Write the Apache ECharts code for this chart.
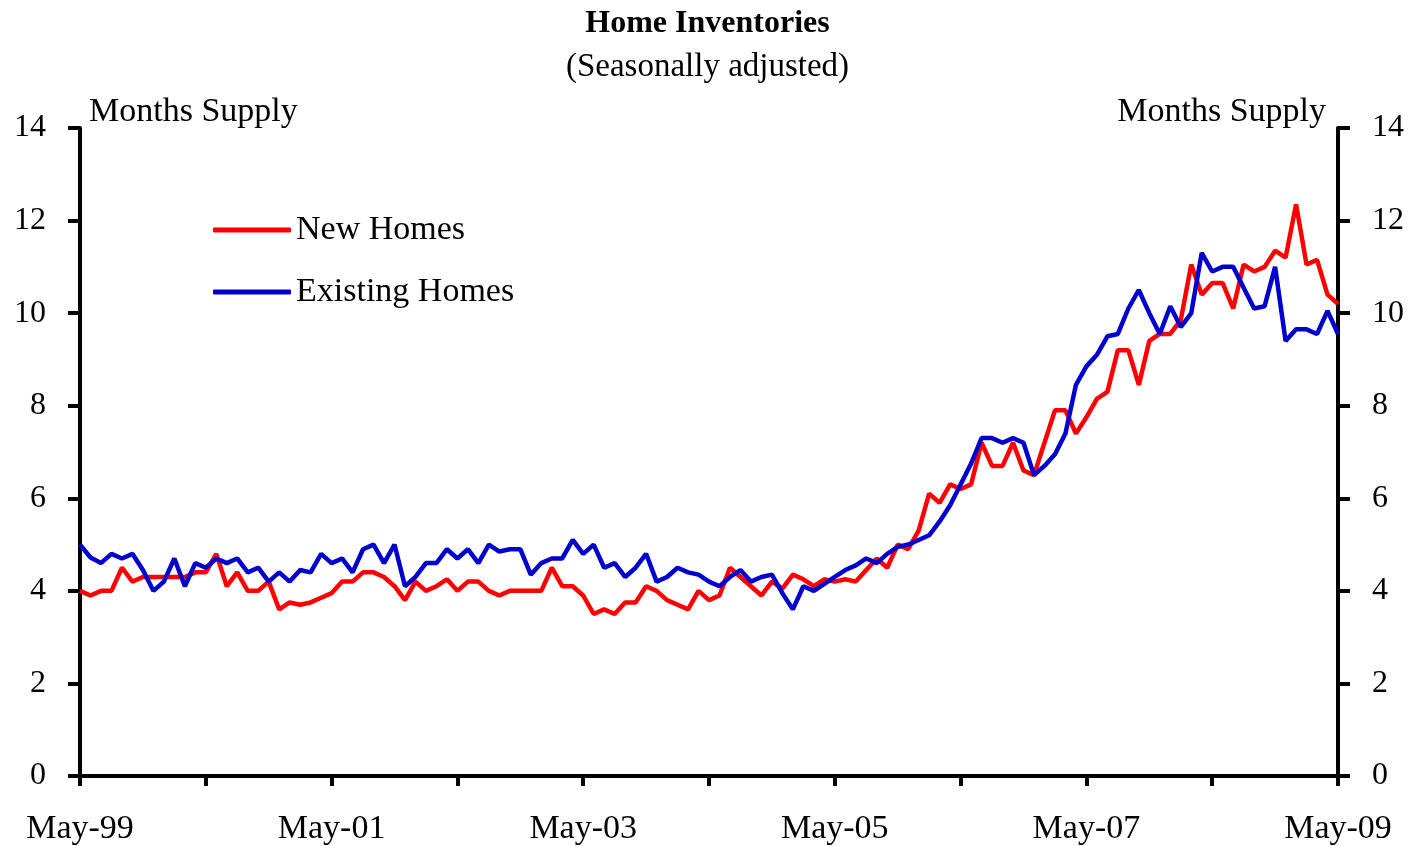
<!DOCTYPE html>
<html>
<head>
<meta charset="utf-8">
<script src="https://cdn.jsdelivr.net/npm/echarts@6/dist/echarts.min.js"></script>
<style>
  html, body { margin: 0; padding: 0; background: #fff; }
  #chart { width: 1415px; height: 846px; }
</style>
</head>
<body>
<div id="chart"></div>
<script>
// monthly, May-99 .. May-09
const monthNames = ['Jan', 'Feb', 'Mar', 'Apr', 'May', 'Jun', 'Jul', 'Aug', 'Sep', 'Oct', 'Nov', 'Dec']
const startYear = 1999
const startMonth = 4 // May

const newHomes = [
  4.0, 3.9, 4.0, 4.0, 4.5, 4.2, 4.3, 4.3, 4.3, 4.3, 4.3, 4.4,
  4.4, 4.8, 4.1, 4.4, 4.0, 4.0, 4.2, 3.6, 3.75, 3.7, 3.75, 3.85,
  3.95, 4.2, 4.2, 4.4, 4.4, 4.3, 4.1, 3.8, 4.2, 4.0, 4.1, 4.25,
  4.0, 4.2, 4.2, 4.0, 3.9, 4.0, 4.0, 4.0, 4.0, 4.5, 4.1, 4.1,
  3.9, 3.5, 3.6, 3.5, 3.75, 3.75, 4.1, 4.0, 3.8, 3.7, 3.6, 4.0,
  3.8, 3.9, 4.5, 4.3, 4.1, 3.9, 4.2, 4.05, 4.35, 4.25, 4.1, 4.25,
  4.2, 4.25, 4.2, 4.45, 4.7, 4.5, 5.0, 4.9, 5.3, 6.1, 5.9, 6.3,
  6.2, 6.3, 7.2, 6.7, 6.7, 7.2, 6.6, 6.5, 7.2, 7.9, 7.9, 7.4,
  7.75, 8.15, 8.3, 9.2, 9.2, 8.45, 9.4, 9.55, 9.55, 9.85, 11.05, 10.4,
  10.65, 10.65, 10.1, 11.05, 10.9, 11.0, 11.35, 11.2, 12.35, 11.05, 11.15, 10.4,
  10.2
]

const existingHomes = [
  5.0, 4.72, 4.6, 4.8, 4.7, 4.8, 4.45, 4.0, 4.2, 4.7, 4.1, 4.6,
  4.5, 4.7, 4.6, 4.7, 4.4, 4.5, 4.2, 4.4, 4.2, 4.45, 4.4, 4.8,
  4.6, 4.7, 4.4, 4.9, 5.0, 4.6, 5.0, 4.1, 4.3, 4.6, 4.6, 4.9,
  4.7, 4.9, 4.6, 5.0, 4.85, 4.9, 4.9, 4.35, 4.6, 4.7, 4.7, 5.1,
  4.8, 5.0, 4.5, 4.6, 4.3, 4.5, 4.8, 4.2, 4.3, 4.5, 4.4, 4.35,
  4.2, 4.1, 4.3, 4.45, 4.2, 4.3, 4.35, 3.95, 3.6, 4.1, 4.0, 4.15,
  4.3, 4.45, 4.55, 4.7, 4.6, 4.8, 4.95, 5.0, 5.1, 5.2, 5.5, 5.85,
  6.3, 6.75, 7.3, 7.3, 7.2, 7.3, 7.2, 6.5, 6.7, 6.95, 7.4, 8.45,
  8.85, 9.1, 9.5, 9.55, 10.1, 10.5, 10.0, 9.55, 10.15, 9.7, 10.0, 11.3,
  10.9, 11.0, 11.0, 10.55, 10.1, 10.15, 11.0, 9.4, 9.65, 9.65, 9.55, 10.05,
  9.55
]

const yTicks = [0, 2, 4, 6, 8, 10, 12, 14]

const months = []
for (let i = 0; i < newHomes.length; i++) {
  const m = (startMonth + i) % 12
  const y = startYear + Math.floor((startMonth + i) / 12)
  months.push(monthNames[m] + '-' + String(y).slice(2))
}

const FONT = '"Liberation Serif", "Times New Roman", serif'
const textBase = { fontFamily: FONT, color: '#000', fontSize: 32 }

const yAxisBase = {
  type: 'value',
  min: yTicks[0],
  max: yTicks[yTicks.length - 1],
  interval: 2,
  splitLine: { show: false },
  axisLine: { show: true, lineStyle: { color: '#000', width: 4 } },
  axisTick: { show: true, inside: false, length: 12, lineStyle: { color: '#000', width: 4 } },
  axisLabel: { ...textBase, margin: 34 },
}

const chart = echarts.init(document.getElementById('chart'))

chart.setOption({
  backgroundColor: '#fff',
  animation: false,
  title: [
    {
      text: 'Home Inventories',
      left: 'center',
      top: 3,
      textStyle: { fontFamily: FONT, fontWeight: 'bold', fontSize: 32, color: '#000' },
    },
    {
      text: '(Seasonally adjusted)',
      left: 'center',
      top: 46,
      textStyle: { fontFamily: FONT, fontWeight: 'normal', fontSize: 33, color: '#000' },
    },
    {
      text: 'Months Supply',
      left: 84,
      top: 90,
      textStyle: { fontFamily: FONT, fontWeight: 'normal', fontSize: 34, color: '#000' },
    },
    {
      text: 'Months Supply',
      right: 84,
      top: 90,
      textStyle: { fontFamily: FONT, fontWeight: 'normal', fontSize: 34, color: '#000' },
    },
  ],
  legend: {
    orient: 'vertical',
    left: 208,
    top: 208,
    itemWidth: 78,
    itemHeight: 5,
    itemGap: 28,
    icon: 'roundRect',
    textStyle: { ...textBase, fontSize: 34, padding: [0, 0, 0, 0] },
    data: ['New Homes', 'Existing Homes'],
  },
  grid: { left: 80, right: 77, top: 128, bottom: 70 },
  xAxis: [
    {
      type: 'category',
      data: months,
      boundaryGap: false,
      axisLine: { show: true, lineStyle: { color: '#000', width: 4 } },
      axisTick: {
        show: true,
        inside: false,
        length: 10,
        interval: (idx) => idx % 12 === 0,
        lineStyle: { color: '#000', width: 4 },
      },
      axisLabel: {
        ...textBase,
        fontSize: 34,
        margin: 36,
        interval: (idx) => idx % 24 === 0,
        showMaxLabel: true,
      },
      splitLine: { show: false },
    },
    {
      type: 'category',
      position: 'top',
      data: months,
      boundaryGap: false,
      axisLine: { show: true, lineStyle: { color: '#000', width: 4 } },
      axisTick: { show: false },
      axisLabel: { show: false },
      splitLine: { show: false },
    },
  ],
  yAxis: [
    { ...yAxisBase, position: 'left' },
    { ...yAxisBase, position: 'right' },
  ],
  series: [
    {
      name: 'New Homes',
      type: 'line',
      data: newHomes,
      symbol: 'none',
      color: '#ff0000',
      lineStyle: { color: '#ff0000', width: 4.5 },
      z: 2,
    },
    {
      name: 'Existing Homes',
      type: 'line',
      data: existingHomes,
      symbol: 'none',
      color: '#0000cc',
      lineStyle: { color: '#0000cc', width: 4.5 },
      z: 3,
    },
  ],
})
</script>
</body>
</html>
